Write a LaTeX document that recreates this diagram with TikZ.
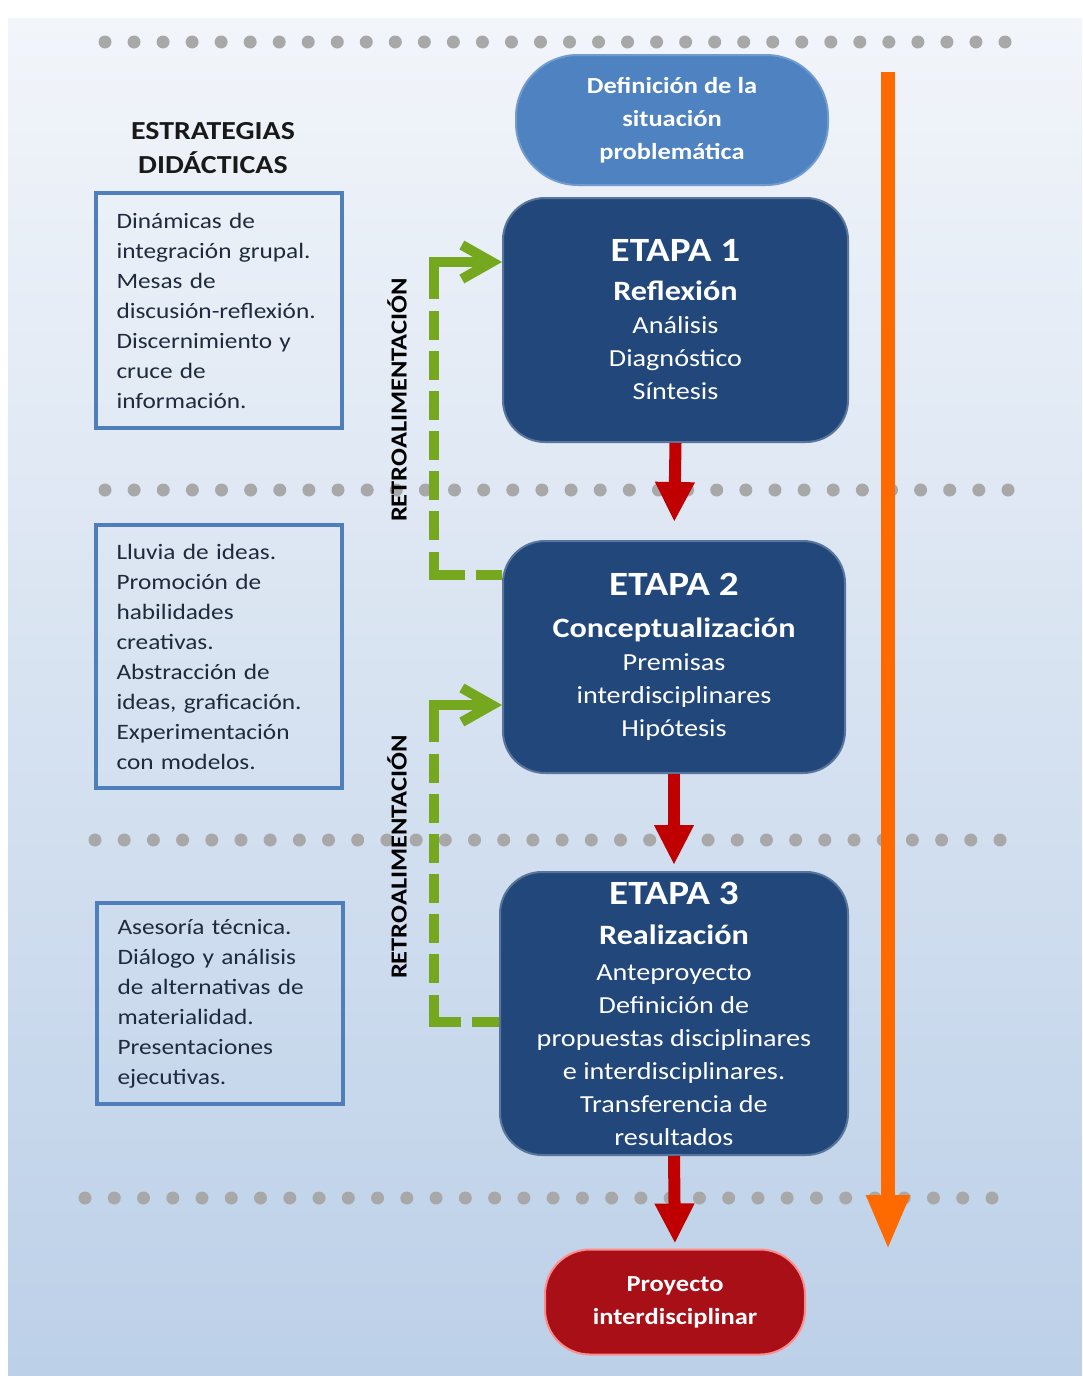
\documentclass[tikz,border=0pt]{standalone}
\usepackage{fontspec}
\setmainfont{Carlito}[FakeStretch=1.15]
\usetikzlibrary{arrows.meta,positioning}

\definecolor{fondoalto}{HTML}{F2F5FA}
\definecolor{fondobajo}{HTML}{BCD0E8}
\definecolor{azuletapa}{HTML}{22477B}
\definecolor{azulclaro}{HTML}{4F82C0}
\definecolor{bordeazul}{HTML}{4F7FBA}
\definecolor{rojoflecha}{HTML}{C00000}
\definecolor{rojoproy}{HTML}{A80F17}
\definecolor{naranja}{HTML}{FF6A00}
\definecolor{verde}{HTML}{76A81F}
\definecolor{gris}{HTML}{A8A8A8}
\definecolor{texto}{HTML}{1F2B3C}

\tikzset{
  etapa/.style={draw=azuletapa!75!white, line width=2pt, fill=azuletapa, rounded corners=42pt,
                text=white, align=center, font=\fontsize{24.5}{33}\selectfont},
  inicio/.style={draw=azulclaro!80!white, line width=2pt, fill=azulclaro, rounded corners=62pt,
                 text=white, align=center, font=\fontsize{23}{33}\selectfont\bfseries},
  proyecto/.style={draw=red!45!white, line width=2pt, fill=rojoproy, rounded corners=45pt,
                   text=white, align=center, font=\fontsize{23}{33}\selectfont\bfseries},
  estrategia/.style={draw=bordeazul, line width=4pt, text=texto, align=left, text width=205pt,
                     inner xsep=20.5pt, font=\fontsize{22}{30}\selectfont},
  encabezado/.style={text=black!90, align=center, font=\fontsize{26}{34}\selectfont\bfseries},
  retrotexto/.style={text=black, rotate=90, font=\fontsize{23}{23}\selectfont\bfseries},
  punto/.style={fill=gris},
  flujo/.style={draw=rojoflecha, line width=12pt, -{Triangle[length=40pt,width=37pt]}},
  tiempo/.style={draw=naranja, line width=14pt, -{Triangle[length=55pt,width=40pt]}},
  retro/.style={draw=verde, line width=10pt,
                dash pattern=on 90pt off 12pt on 29pt off 11pt on 29pt off 11pt on 29pt off 11pt
                  on 29pt off 11pt on 29pt off 11pt on 29pt off 12pt on 54pt off 11pt on 80pt,
                {Straight Barb[length=30pt,width=34pt]}-}
}
\newcommand*\tituloetapa[1]{{\fontsize{34}{40}\selectfont\bfseries #1}}
\newcommand*\nombreetapa[1]{{\fontsize{28}{30}\selectfont\bfseries #1}}

\begin{document}
\begin{tikzpicture}[x=1pt, y=-1pt]
\useasboundingbox (0,0) rectangle (1082,1376);
\fill[white] (0,0) rectangle (1082,1376);
\shade[top color=fondoalto, bottom color=fondobajo] (8,18) rectangle (1082,1376);

\foreach \yy/\xa/\xb in {42/105/1005, 490/105/1008, 840/95/1000, 1198/85/992}
  \foreach \i in {0,...,31}
    \fill[punto] ({\xa+\i/31*(\xb-\xa)},\yy) circle (6.5pt);

\coordinate (tiempoini) at (888,72);
\coordinate (tiempofin) at (888,1250);
\draw[tiempo] (tiempoini) -- (tiempofin);

\node[inicio, minimum width=312pt, minimum height=130pt] (definicion) at (672,120)
  {Definición de la\\situación\\problemática};
\node[etapa, minimum width=345pt, minimum height=244pt] (etapa1) at (675.5,320)
  {\tituloetapa{ETAPA 1}\\[6pt]\nombreetapa{Reflexión}\\Análisis\\Diagnóstico\\Síntesis};
\node[etapa, minimum width=342pt, minimum height=232pt] (etapa2) at (674,657)
  {\tituloetapa{ETAPA 2}\\[9pt]\nombreetapa{Conceptualización}\\Premisas\\interdisciplinares\\Hipótesis};
\node[etapa, minimum width=348pt, minimum height=283pt] (etapa3) at (674,1013.5)
  {\tituloetapa{ETAPA 3}\\[7pt]\nombreetapa{Realización}\\[3pt]Anteproyecto\\Definición de\\propuestas disciplinares\\e interdisciplinares.\\Transferencia de\\resultados};
\node[proyecto, minimum width=260pt, minimum height=105pt] (proyecto) at (675,1302)
  {Proyecto\\interdisciplinar};

\node[estrategia, minimum height=235pt] (est1) at (219,310.5)
  {Dinámicas de\\integración grupal.\\Mesas de\\discusión-reflexión.\\Discernimiento y\\cruce de\\información.};
\node[estrategia, minimum height=263pt] (est2) at (219,656.5)
  {Lluvia de ideas.\\Promoción de\\habilidades\\creativas.\\Abstracción de\\ideas, graficación.\\Experimentación\\con modelos.};
\node[estrategia, minimum height=201pt] (est3) at (220,1003.5)
  {Asesoría técnica.\\Diálogo y análisis\\de alternativas de\\materialidad.\\Presentaciones\\ejecutivas.};
\node[encabezado, above=14pt of est1, xshift=-6pt] (titulo) {ESTRATEGIAS\\DIDÁCTICAS};

\node[retrotexto] (retro1) at (397,400) {RETROALIMENTACIÓN};
\node[retrotexto] (retro2) at (397,857) {RETROALIMENTACIÓN};

\draw[retro] ([yshift=58pt]etapa1.west) -- ++(-68,0) |- ([yshift=82pt]etapa2.west);
\draw[retro] ([yshift=-48pt]etapa2.west) -- ++(-68,0) |- ([yshift=-8.5pt]etapa3.west);

\draw[flujo, shorten >=18pt] (etapa1.south) -- (etapa2.north);
\draw[flujo, shorten >=6pt] (etapa2.south) -- (etapa3.north);
\draw[flujo, shorten >=5pt] (etapa3.south) -- (proyecto.north);
\end{tikzpicture}
\end{document}
